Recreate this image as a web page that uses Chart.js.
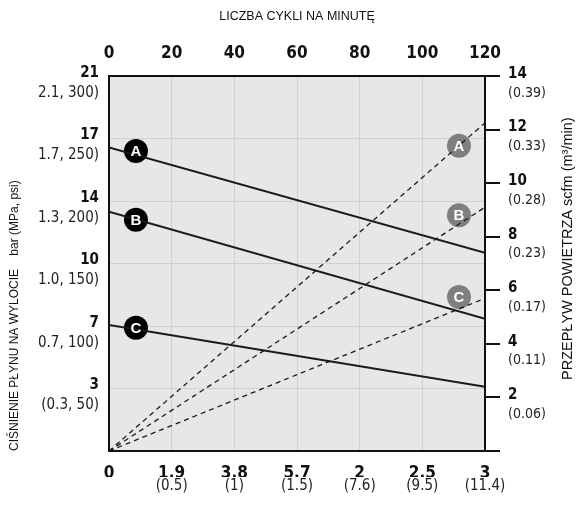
<!DOCTYPE html>
<html><head><meta charset="utf-8">
<script src="https://cdn.jsdelivr.net/npm/chart.js@4/dist/chart.umd.min.js"></script>
<style>html,body{margin:0;padding:0;background:#fff}#wrap{width:579px;height:508px;position:relative}</style>
</head><body><div id="wrap"><canvas id="c"></canvas></div>
<script>
// ---- data ----
const cyclesMin = 0, cyclesMax = 120, cyclesStep = 20;
const bottomMain = ['0','1.9','3.8','5.7','2','2.5','3'];
const bottomSub = ['','(0.5)','(1)','(1.5)','(7.6)','(9.5)','(11.4)'];
const leftMain = ['','3','7','10','14','17','21'];
const leftSub = ['','(0.3, 50)','0.7, 100)','1.0, 150)','1.3, 200)','1.7, 250)','2.1, 300)'];
const rightMain = ['','2','4','6','8','10','12','14'];
const rightSub = ['','(0.06)','(0.11)','(0.17)','(0.23)','(0.28)','(0.33)','(0.39)'];
const seriesNames = ['A','B','C'];
const lineX = [0, 120];
const pressureA = [17.0, 11.1];
const pressureB = [13.4, 7.4];
const pressureC = [7.05, 3.6];
const airA = [0, 12.25];
const airB = [0, 9.1];
const airC = [0, 5.7];
const pressureBadgeX = [8.6, 8.6, 8.6];
const pressureBadgeY = [16.8, 12.95, 6.9];
const airBadgeX = [111.7, 111.7, 111.7];
const airBadgeY = [11.4, 8.8, 5.75];
const topTitle = 'LICZBA CYKLI NA MINUTĘ';
const leftTitle = 'CIŚNIENIE PŁYNU NA WYLOCIE    bar (MPa, psi)';
const rightTitle = 'PRZEPŁYW POWIETRZA scfm (m³/min)';

// ---- styling ----
const FF = "'DejaVu Sans Condensed', 'Liberation Sans Narrow', 'Liberation Sans', Arial, sans-serif";
const FT = "'Liberation Sans', Arial, sans-serif";
const INK = '#111111';
const GRID = '#cfd0d2';
const pts = (xs, ys) => xs.map((x, i) => ({x, y: ys[i]}));

const bgPlugin = {
  id: 'plotBg',
  beforeDraw(chart) {
    const {ctx, chartArea: a} = chart;
    ctx.save(); ctx.fillStyle = '#e6e7e8';
    ctx.fillRect(a.left, a.top, a.right - a.left, a.bottom - a.top);
    ctx.restore();
  }
};
// let the two label axes on each side share one label column
const shareSidePlugin = {
  id: 'shareSide',
  afterLayout(chart) {
    chart.scales.yb.left = 0;
    chart.scales.rb.right = chart.width;
  }
};
const badgePlugin = {
  id: 'badgeText',
  afterDatasetsDraw(chart) {
    const {ctx} = chart;
    chart.data.datasets.forEach((ds, di) => {
      if (!ds.badgeLabels) return;
      const meta = chart.getDatasetMeta(di);
      meta.data.forEach((el, i) => {
        ctx.save();
        ctx.fillStyle = '#ffffff';
        ctx.font = 'bold 15px ' + FT;
        ctx.textAlign = 'center'; ctx.textBaseline = 'middle';
        ctx.fillText(ds.badgeLabels[i], el.x, el.y + 1);
        ctx.restore();
      });
    });
  }
};
const rightTitlePlugin = {
  id: 'rightTitle',
  afterDraw(chart) {
    const {ctx, chartArea: a} = chart;
    ctx.save();
    ctx.translate(chart.width - 11, a.bottom - 71);
    ctx.rotate(-Math.PI / 2);
    ctx.fillStyle = INK; ctx.font = '14.5px ' + FT;
    ctx.textAlign = 'left'; ctx.textBaseline = 'middle';
    ctx.fillText(rightTitle, 0, 0);
    ctx.restore();
  }
};

const xCommon = {type: 'linear', min: cyclesMin, max: cyclesMax, ticks: {stepSize: cyclesStep, autoSkip: false, maxRotation: 0}};

new Chart(document.getElementById('c'), {
  type: 'line',
  data: {
    datasets: [
      {data: pts(lineX, pressureA), xAxisID: 'x', yAxisID: 'yb', borderColor: '#1a1a1a', borderWidth: 2, pointRadius: 0},
      {data: pts(lineX, pressureB), xAxisID: 'x', yAxisID: 'yb', borderColor: '#1a1a1a', borderWidth: 2, pointRadius: 0},
      {data: pts(lineX, pressureC), xAxisID: 'x', yAxisID: 'yb', borderColor: '#1a1a1a', borderWidth: 2, pointRadius: 0},
      {data: pts(lineX, airA), xAxisID: 'x', yAxisID: 'rb', borderColor: '#1a1a1a', borderWidth: 1.3, borderDash: [5, 4], pointRadius: 0},
      {data: pts(lineX, airB), xAxisID: 'x', yAxisID: 'rb', borderColor: '#1a1a1a', borderWidth: 1.3, borderDash: [5, 4], pointRadius: 0},
      {data: pts(lineX, airC), xAxisID: 'x', yAxisID: 'rb', borderColor: '#1a1a1a', borderWidth: 1.3, borderDash: [5, 4], pointRadius: 0},
      {data: pts(pressureBadgeX, pressureBadgeY), badgeLabels: seriesNames, xAxisID: 'x', yAxisID: 'yb', showLine: false,
       pointRadius: 12, pointBackgroundColor: '#000000', pointBorderWidth: 0, pointBorderColor: '#000000'},
      {data: pts(airBadgeX, airBadgeY), badgeLabels: seriesNames, xAxisID: 'x', yAxisID: 'rb', showLine: false,
       pointRadius: 12, pointBackgroundColor: '#7f7f80', pointBorderWidth: 0, pointBorderColor: '#7f7f80'}
    ]
  },
  options: {
    responsive: true, maintainAspectRatio: false, animation: false,
    layout: {padding: 0},
    plugins: {legend: {display: false}, tooltip: {enabled: false}},
    scales: {
      x: {...xCommon, position: 'top',
        ticks: {...xCommon.ticks, padding: 12, color: INK, font: {family: FF, size: 17, weight: 'bold'}},
        grid: {color: GRID, lineWidth: 1, drawTicks: false},
        border: {display: true, color: INK, width: 2},
        title: {display: true, text: topTitle, color: INK, font: {family: FT, size: 12.5}, padding: {top: 9, bottom: 0}},
        afterFit: s => { s.height = 76; }
      },
      xb: {...xCommon, position: 'bottom', weight: 0,
        ticks: {...xCommon.ticks, padding: 12, color: INK, font: {family: FF, size: 17, weight: 'bold'}, callback: (v, i) => bottomMain[i]},
        grid: {display: true, drawOnChartArea: false, drawTicks: false},
        border: {display: true, color: INK, width: 2},
        afterFit: s => { s.height = 26; }
      },
      xs: {...xCommon, position: 'bottom', weight: 1,
        ticks: {...xCommon.ticks, padding: 0, color: '#222', font: {family: FF, size: 15}, callback: (v, i) => bottomSub[i]},
        grid: {display: true, drawOnChartArea: false, drawTicks: false},
        border: {display: false},
        afterFit: s => { s.height = 31; }
      },
      yb: {type: 'linear', position: 'left', weight: 0, min: 0, max: 21,
        ticks: {stepSize: 3.5, autoSkip: false, padding: 10, labelOffset: -3, color: INK, font: {family: FF, size: 15, weight: 'bold'}, callback: (v, i) => leftMain[i]},
        grid: {color: GRID, lineWidth: 1, drawTicks: false},
        border: {display: true, color: INK, width: 2},
        afterFit: s => { s.width = 0; }
      },
      yl: {type: 'linear', position: 'left', weight: 1, min: 0, max: 21,
        ticks: {stepSize: 3.5, autoSkip: false, padding: 10, labelOffset: 17, color: '#222', font: {family: FF, size: 15}, callback: (v, i) => leftSub[i]},
        grid: {display: true, drawOnChartArea: false, drawTicks: false},
        border: {display: false},
        title: {display: true, text: leftTitle, align: 'start', color: INK, font: {family: FT, size: 12}, padding: {top: 7, bottom: 0}},
        afterFit: s => { s.width = 109; }
      },
      rb: {type: 'linear', position: 'right', weight: 0, min: 0, max: 14,
        ticks: {stepSize: 2, autoSkip: false, padding: 8, labelOffset: -2, color: INK, font: {family: FF, size: 15, weight: 'bold'}, callback: (v, i) => rightMain[i]},
        grid: {display: true, drawOnChartArea: false, drawTicks: true, tickLength: 15, color: INK, lineWidth: 2},
        border: {display: true, color: INK, width: 2},
        afterFit: s => { s.width = 0; }
      },
      rs: {type: 'linear', position: 'right', weight: 1, min: 0, max: 14,
        ticks: {stepSize: 2, autoSkip: false, padding: 23, labelOffset: 17, color: '#222', font: {family: FF, size: 14}, callback: (v, i) => rightSub[i]},
        grid: {display: true, drawOnChartArea: false, drawTicks: false},
        border: {display: false},
        afterFit: s => { s.width = 94; }
      }
    }
  },
  plugins: [bgPlugin, shareSidePlugin, badgePlugin, rightTitlePlugin]
});
</script></body></html>
